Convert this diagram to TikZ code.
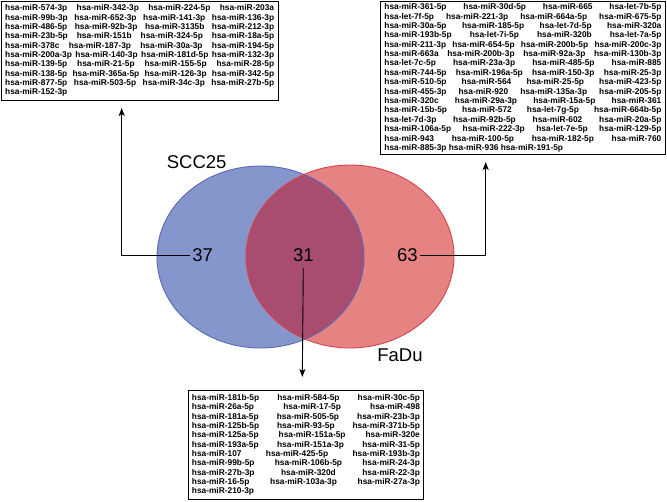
\documentclass[tikz,border=0pt]{standalone}
\usepackage{fontspec}
\setmainfont{Liberation Sans}
\usetikzlibrary{arrows.meta}
\newlength\rw
\newcommand\jr[4]{\hbox to \rw{#1\hfill#2\hfill#3\hfill#4}}
\newcommand\jt[3]{\hbox to \rw{#1\hfill#2\hfill#3}}
\definecolor{bfill}{HTML}{8596CC}
\definecolor{bline}{HTML}{5A68B4}
\definecolor{rfill}{HTML}{E58282}
\definecolor{rline}{HTML}{D6434E}
\definecolor{ofill}{HTML}{A84D70}
\tikzset{
  listbox/.style={draw=black, line width=0.8pt, inner sep=0pt, anchor=north west},
  bigtxt/.style={font=\fontsize{18.5}{20}\selectfont, inner sep=2pt},
  arr/.style={draw=black, line width=0.9pt, -{Stealth[length=8pt,width=6pt,inset=2pt]}}
}
\begin{document}
\begin{tikzpicture}[x=1pt,y=-1pt]
\useasboundingbox (0,0) rectangle (667,501);
% Venn
\fill[bfill] (260.5,257) ellipse [x radius=103.5, y radius=91];
\fill[rfill] (350,256.5) ellipse [x radius=104, y radius=91.5];
\begin{scope}
  \clip (260.5,257) ellipse [x radius=103.5, y radius=91];
  \fill[ofill] (350,256.5) ellipse [x radius=104, y radius=91.5];
\end{scope}
\draw[bline, line width=0.9pt] (260.5,257) ellipse [x radius=103.5, y radius=91];
\draw[rline, line width=0.9pt] (350,256.5) ellipse [x radius=104, y radius=91.5];
\node[bigtxt] (scc) at (196.7,161.7) {SCC25};
\node[bigtxt] (fadu) at (400,355.7) {FaDu};
\node[bigtxt] (n37) at (202.7,255) {37};
\node[bigtxt] (n31) at (303.3,255) {31};
\node[bigtxt] (n63) at (407.3,255) {63};
% lists
\node[listbox, minimum width=277.5pt, minimum height=99.5pt] (L) at (0.5,0.5) {\vbox{\bfseries\fontsize{8.35}{9.33}\selectfont\setlength\rw{269pt}
\jr{hsa-miR-574-3p}{hsa-miR-342-3p}{hsa-miR-224-5p}{hsa-miR-203a}
\jr{hsa-miR-99b-3p}{hsa-miR-652-3p}{hsa-miR-141-3p}{hsa-miR-136-3p}
\jr{hsa-miR-486-5p}{hsa-miR-92b-3p}{hsa-miR-3135b}{hsa-miR-212-3p}
\jr{hsa-miR-23b-5p}{hsa-miR-151b}{hsa-miR-324-5p}{hsa-miR-18a-5p}
\jr{hsa-miR-378c}{hsa-miR-187-3p}{hsa-miR-30a-3p}{hsa-miR-194-5p}
\jr{hsa-miR-200a-3p}{hsa-miR-140-3p}{hsa-miR-181d-5p}{hsa-miR-132-3p}
\jr{hsa-miR-139-5p}{hsa-miR-21-5p}{hsa-miR-155-5p}{hsa-miR-28-5p}
\jr{hsa-miR-138-5p}{hsa-miR-365a-5p}{hsa-miR-126-3p}{hsa-miR-342-5p}
\jr{hsa-miR-877-5p}{hsa-miR-503-5p}{hsa-miR-34c-3p}{hsa-miR-27b-5p}
\hbox to \rw{hsa-miR-152-3p\hfill}}};
\node[listbox, minimum width=285pt, minimum height=153pt] (R) at (380,1) {\vbox{\bfseries\fontsize{8.35}{9.38}\selectfont\setlength\rw{277pt}
\jr{hsa-miR-361-5p}{hsa-miR-30d-5p}{hsa-miR-665}{hsa-let-7b-5p}
\jr{hsa-let-7f-5p}{hsa-miR-221-3p}{hsa-miR-664a-5p}{hsa-miR-675-5p}
\jr{hsa-miR-30a-5p}{hsa-miR-185-5p}{hsa-let-7d-5p}{hsa-miR-320a}
\jr{hsa-miR-193b-5p}{hsa-let-7i-5p}{hsa-miR-320b}{hsa-let-7a-5p}
\jr{hsa-miR-211-3p}{hsa-miR-654-5p}{hsa-miR-200b-5p}{hsa-miR-200c-3p}
\jr{hsa-miR-663a}{hsa-miR-200b-3p}{hsa-miR-92a-3p}{hsa-miR-130b-3p}
\jr{hsa-let-7c-5p}{hsa-miR-23a-3p}{hsa-miR-485-5p}{hsa-miR-885}
\jr{hsa-miR-744-5p}{hsa-miR-196a-5p}{hsa-miR-150-3p}{hsa-miR-25-3p}
\jr{hsa-miR-510-5p}{hsa-miR-564}{hsa-miR-25-5p}{hsa-miR-423-5p}
\jr{hsa-miR-455-3p}{hsa-miR-920}{hsa-miR-135a-3p}{hsa-miR-205-5p}
\jr{hsa-miR-320c}{hsa-miR-29a-3p}{hsa-miR-15a-5p}{hsa-miR-361}
\jr{hsa-miR-15b-5p}{hsa-miR-572}{hsa-let-7g-5p}{hsa-miR-664b-5p}
\jr{hsa-let-7d-3p}{hsa-miR-92b-5p}{hsa-miR-602}{hsa-miR-20a-5p}
\jr{hsa-miR-106a-5p}{hsa-miR-222-3p}{hsa-let-7e-5p}{hsa-miR-129-5p}
\jr{hsa-miR-943}{hsa-miR-100-5p}{hsa-miR-182-5p}{hsa-miR-760}
\hbox to \rw{hsa-miR-885-3p hsa-miR-936 hsa-miR-191-5p\hfill}}};
\node[listbox, minimum width=235pt, minimum height=109pt] (B) at (188,390) {\vbox{\bfseries\fontsize{8.35}{9.34}\selectfont\setlength\rw{228pt}
\jt{hsa-miR-181b-5p}{hsa-miR-584-5p}{hsa-miR-30c-5p}
\jt{hsa-miR-26a-5p}{hsa-miR-17-5p}{hsa-miR-498}
\jt{hsa-miR-181a-5p}{hsa-miR-505-5p}{hsa-miR-23b-3p}
\jt{hsa-miR-125b-5p}{hsa-miR-93-5p}{hsa-miR-371b-5p}
\jt{hsa-miR-125a-5p}{hsa-miR-151a-5p}{hsa-miR-320e}
\jt{hsa-miR-193a-5p}{hsa-miR-151a-3p}{hsa-miR-31-5p}
\jt{hsa-miR-107}{hsa-miR-425-5p}{hsa-miR-193b-3p}
\jt{hsa-miR-99b-5p}{hsa-miR-106b-5p}{hsa-miR-24-3p}
\jt{hsa-miR-27b-3p}{hsa-miR-320d}{hsa-miR-22-3p}
\jt{hsa-miR-16-5p}{hsa-miR-103a-3p}{hsa-miR-27a-3p}
\hbox to \rw{hsa-miR-210-3p\hfill}}};
% connectors
\coordinate (tipL) at (121.7,108);
\coordinate (tipR) at (485.7,162);
\coordinate (tipB) at (302.3,377);
\draw[arr] (n37.west) -| (tipL);
\draw[arr] (n63.east) -| (tipR);
\draw[arr] ([yshift=-4pt]n31.south) -- (tipB);
\end{tikzpicture}
\end{document}
